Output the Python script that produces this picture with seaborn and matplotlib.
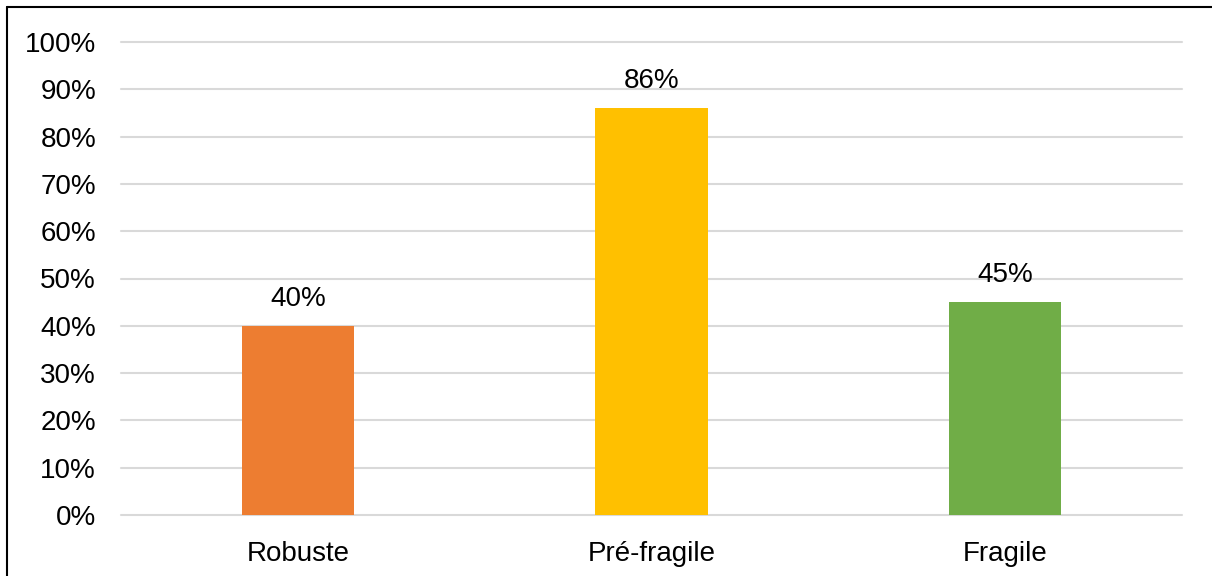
import matplotlib
matplotlib.use("Agg")
import matplotlib.pyplot as plt
import seaborn as sns
import pandas as pd
from matplotlib.ticker import PercentFormatter
from matplotlib.lines import Line2D

categories = ["Robuste", "Pré-fragile", "Fragile"]
values = [0.40, 0.86, 0.45]
value_labels = ["40%", "86%", "45%"]
colors = ["#ED7D31", "#FFC000", "#70AD47"]

sns.set_theme(style="white")
plt.rcParams["font.family"] = ["Liberation Sans", "DejaVu Sans"]

df = pd.DataFrame({"cat": categories, "val": values})

fig = plt.figure(figsize=(12.12, 5.76), dpi=100)
ax = fig.add_axes([121/1212, 1 - 515/576, (1182-121)/1212, (515-42)/576])

sns.barplot(data=df, x="cat", y="val", hue="cat", palette=colors, width=0.317,
            legend=False, ax=ax, saturation=1, linewidth=0)

ax.set_ylim(0, 1)
ax.set_yticks([i/10 for i in range(11)])
ax.yaxis.set_major_formatter(PercentFormatter(1.0, decimals=0))
ax.grid(axis="y", color="#d9d9d9", linewidth=1.5)
for gl in ax.get_ygridlines():
    gl.set_clip_on(False)
ax.set_axisbelow(True)
for s in ax.spines.values():
    s.set_visible(False)
ax.set_xlabel("")
ax.set_ylabel("")
ax.tick_params(axis="y", labelsize=20, pad=18, length=0, labelcolor="#000000")
ax.tick_params(axis="x", labelsize=20, pad=19, length=0, labelcolor="#000000")

for i, (v, lab) in enumerate(zip(values, value_labels)):
    ax.annotate(lab, xy=(i, v), xytext=(0, 10), textcoords="offset points",
                ha="center", va="bottom", fontsize=20, color="#000000")

# figure border (left and top visible)
fig.add_artist(Line2D([7/1212, 7/1212], [0, 1 - 7/576], transform=fig.transFigure,
                      color="black", linewidth=1.5))
fig.add_artist(Line2D([7/1212, 1], [1 - 7/576, 1 - 7/576], transform=fig.transFigure,
                      color="black", linewidth=1.5))

fig.savefig("out.png", dpi=100)
